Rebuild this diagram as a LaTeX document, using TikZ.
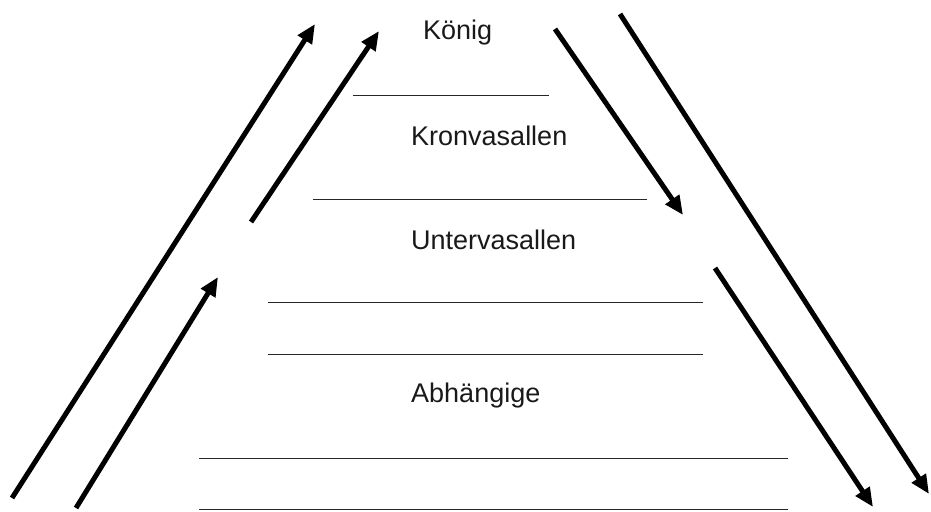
\documentclass[tikz,border=0pt]{standalone}
\usepackage{fontspec}
\setmainfont{Liberation Sans}
\usetikzlibrary{arrows.meta}
\begin{document}
\begin{tikzpicture}[x=1pt,y=-1pt,
  bigarrow/.style={line width=5pt,-{Triangle[length=19pt,width=16pt]}},
  rule/.style={line width=1pt,draw=black!85},
  label/.style={anchor=base west,inner sep=0pt,text=black!90,font=\fontsize{27}{31}\selectfont}]
\useasboundingbox (0,0) rectangle (931,511);
% labels
\node[label] (koenig) at (423,40) {König};
\node[label] (kron) at (411,145) {Kronvasallen};
\node[label] (unter) at (411,249) {Untervasallen};
\node[label] (abh) at (411,402) {Abhängige};
% rules
\coordinate (r1a) at (353,95);  \coordinate (r1b) at (549,95);
\coordinate (r2a) at (313,199); \coordinate (r2b) at (647,199);
\coordinate (r3a) at (268,302); \coordinate (r3b) at (703,302);
\coordinate (r4a) at (268,354); \coordinate (r4b) at (703,354);
\coordinate (r5a) at (199,458); \coordinate (r5b) at (788,458);
\coordinate (r6a) at (199,509); \coordinate (r6b) at (788,509);
\draw[rule] (r1a) -- (r1b);
\draw[rule] (r2a) -- (r2b);
\draw[rule] (r3a) -- (r3b);
\draw[rule] (r4a) -- (r4b);
\draw[rule] (r5a) -- (r5b);
\draw[rule] (r6a) -- (r6b);
% arrows
\coordinate (a1s) at (12,498);  \coordinate (a1e) at (315,24);
\coordinate (a2s) at (251,222); \coordinate (a2e) at (379,31);
\coordinate (a3s) at (76,508);  \coordinate (a3e) at (218,277);
\coordinate (a4s) at (555,29);  \coordinate (a4e) at (683,215);
\coordinate (a5s) at (620,14);  \coordinate (a5e) at (929,494);
\coordinate (a6s) at (715,268); \coordinate (a6e) at (873,507);
\draw[bigarrow] (a1s) -- (a1e);
\draw[bigarrow] (a2s) -- (a2e);
\draw[bigarrow] (a3s) -- (a3e);
\draw[bigarrow] (a4s) -- (a4e);
\draw[bigarrow] (a5s) -- (a5e);
\draw[bigarrow] (a6s) -- (a6e);
\end{tikzpicture}
\end{document}
